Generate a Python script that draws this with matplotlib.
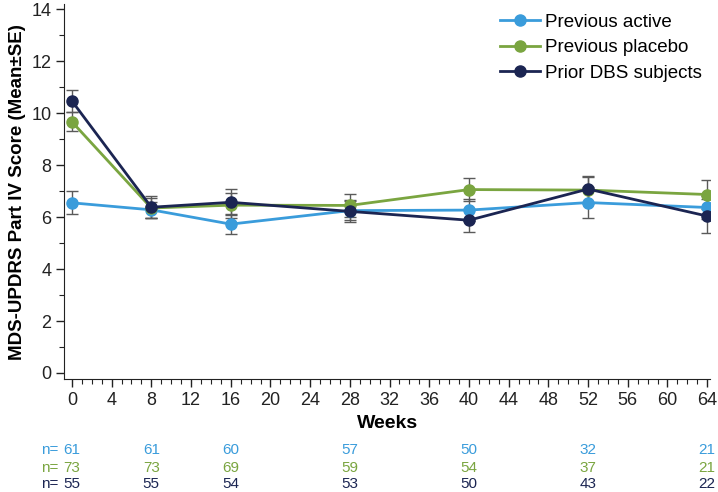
import matplotlib.pyplot as plt
from matplotlib.ticker import MultipleLocator
import matplotlib.transforms as mtransforms

plt.rcParams['font.family'] = ['Liberation Sans', 'DejaVu Sans']

weeks = [0, 8, 16, 28, 40, 52, 64]

active = [6.55, 6.28, 5.73, 6.25, 6.27, 6.56, 6.37]
active_se = [0.44, 0.32, 0.38, 0.38, 0.42, 0.6, 0.45]
placebo = [9.67, 6.35, 6.46, 6.45, 7.06, 7.04, 6.87]
placebo_se = [0.36, 0.38, 0.48, 0.45, 0.45, 0.5, 0.55]
dbs = [10.47, 6.38, 6.57, 6.22, 5.88, 7.08, 6.04]
dbs_se = [0.41, 0.42, 0.5, 0.42, 0.44, 0.52, 0.66]

n_active = [61, 61, 60, 57, 50, 32, 21]
n_placebo = [73, 73, 69, 59, 54, 37, 21]
n_dbs = [55, 55, 54, 53, 50, 43, 22]

c_active = '#3a9cdb'
c_placebo = '#7aa540'
c_dbs = '#1b2552'

fig = plt.figure(figsize=(7.18, 4.92), dpi=100)
ax = fig.add_axes([0.0891, 0.2287, 0.9, 0.763])

series = [
    ('Previous active', active, active_se, c_active),
    ('Previous placebo', placebo, placebo_se, c_placebo),
    ('Prior DBS subjects', dbs, dbs_se, c_dbs),
]
for label, vals, se, col in series:
    ax.errorbar(weeks, vals, yerr=se, fmt='none', ecolor='#5a5a5a',
                elinewidth=1, capsize=4.5, capthick=1, zorder=2)
for label, vals, se, col in series:
    ax.plot(weeks, vals, color=col, lw=2, marker='o', markersize=8,
            label=label, zorder=3)

ax.set_xlim(-0.8, 64.3)
ax.set_ylim(-0.25, 14.2)
ax.xaxis.set_major_locator(MultipleLocator(4))
ax.xaxis.set_minor_locator(MultipleLocator(1))
ax.yaxis.set_major_locator(MultipleLocator(2))
ax.yaxis.set_minor_locator(MultipleLocator(1))
ax.tick_params(which='major', length=6, width=1, labelsize=13, pad=3,
               colors='#222222')
ax.tick_params(which='minor', length=3.5, width=0.8, colors='#222222')
for s in ['top', 'right']:
    ax.spines[s].set_visible(False)
for s in ['left', 'bottom']:
    ax.spines[s].set_color('#222222')

ax.set_xlabel('Weeks', fontsize=14, fontweight='bold', labelpad=4)
ax.set_ylabel('MDS-UPDRS Part IV Score (Mean±SE)', fontsize=13.5,
              fontweight='bold', labelpad=4)

ax.legend(loc='upper right', bbox_to_anchor=(1.005, 1.005), frameon=False,
          fontsize=13.5, handlelength=2.1, handletextpad=0.3,
          labelspacing=0.45, borderaxespad=0.2)

trans = mtransforms.blended_transform_factory(ax.transData, fig.transFigure)
rows = [(n_active, c_active, 1 - 450 / 492),
        (n_placebo, c_placebo, 1 - 467.5 / 492),
        (n_dbs, c_dbs, 1 - 484.5 / 492)]
for counts, col, yf in rows:
    for w, n in zip(weeks, counts):
        ax.text(w, yf, str(n), transform=trans, ha='center', va='center',
                fontsize=11, color=col, clip_on=False)
    ax.text(-1.4, yf, 'n=', transform=trans, ha='right', va='center',
            fontsize=11, color=col, clip_on=False)

fig.savefig('out.png', dpi=100)
